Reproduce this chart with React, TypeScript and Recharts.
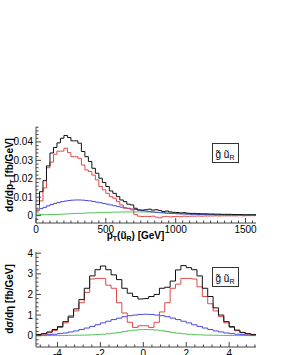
import React from 'react';
import { LineChart, Line, XAxis, YAxis } from 'recharts';

const FONT = '"Liberation Sans", Arial, Helvetica, sans-serif';

// pT(u~R) spectrum, 25 GeV bins (low edges)
const PT_BIN_LOW = [
  0, 25, 50, 75, 100, 125, 150, 175, 200, 225, 250, 275, 300, 325, 350, 375,
  400, 425, 450, 475, 500, 525, 550, 575, 600, 625, 650, 675, 700, 725, 750, 775,
  800, 825, 850, 875, 900, 925, 950, 975, 1000, 1025, 1050, 1075, 1100, 1125, 1150, 1175,
  1200, 1225, 1250, 1275, 1300, 1325, 1350, 1375, 1400, 1425, 1450, 1475, 1500, 1525, 1550,
];
const PT_LAST_EDGE = 1575;

const PT_TOTAL = [
  0.006, 0.013, 0.019, 0.027, 0.034, 0.037, 0.0395, 0.042, 0.0435, 0.0424, 0.0406, 0.0406, 0.0393, 0.0348, 0.032, 0.0294,
  0.0257, 0.023, 0.0203, 0.018, 0.0158, 0.0134, 0.0121, 0.0103, 0.0085, 0.0076, 0.0062, 0.0058, 0.004, 0.0031, 0.003, 0.0032,
  0.0035, 0.003, 0.0032, 0.0028, 0.0022, 0.0025, 0.002, 0.0018, 0.0017, 0.0015, 0.0016, 0.0013, 0.0012, 0.0012, 0.0011, 0.001,
  0.001, 0.0009, 0.0009, 0.0008, 0.0008, 0.0007, 0.0007, 0.0007, 0.0006, 0.0006, 0.0006, 0.0005, 0.0005, 0.0005, 0.0005,
];
const PT_RED = [
  0.003, 0.008, 0.015, 0.026, 0.029, 0.0333, 0.035, 0.035, 0.0366, 0.0342, 0.032, 0.032, 0.0311, 0.0275, 0.0248, 0.0239,
  0.022, 0.0194, 0.0158, 0.014, 0.0121, 0.0103, 0.0094, 0.0076, 0.0058, 0.004, 0.004, 0.0031, 0.0007, -0.0003, -0.0005, -0.0004,
  -0.0005, -0.0003, -0.0008, -0.0012, -0.0006, -0.0004, -0.0007, -0.0005, -0.0004, -0.0006, -0.0003, -0.0004, -0.0003, -0.0003, -0.0002, -0.0003,
  -0.0002, -0.0002, -0.0002, -0.0001, -0.0002, -0.0001, -0.0001, -0.0001, -0.0001, -0.0001, 0, -0.0001, 0, 0, 0,
];
const PT_BLUE = [
  0.003, 0.0038, 0.0045, 0.0053, 0.006, 0.0066, 0.0071, 0.0076, 0.0079, 0.0082, 0.0084, 0.0085, 0.0085, 0.0084, 0.0082, 0.008,
  0.0077, 0.0073, 0.007, 0.0066, 0.0062, 0.0058, 0.0054, 0.005, 0.0046, 0.0043, 0.0039, 0.0036, 0.0033, 0.003, 0.0027, 0.0025,
  0.0022, 0.002, 0.0018, 0.0016, 0.0015, 0.0013, 0.0012, 0.0011, 0.001, 0.0009, 0.0009, 0.0008, 0.0007, 0.0007, 0.0006, 0.0006,
  0.0005, 0.0005, 0.0005, 0.0004, 0.0004, 0.0004, 0.0003, 0.0003, 0.0003, 0.0003, 0.0003, 0.0002, 0.0002, 0.0002, 0.0002,
];
const PT_GREEN = [
  0.0008, 0.0006, 0.0005, 0.0005, 0.0006, 0.0006, 0.0007, 0.0008, 0.0009, 0.001, 0.0011, 0.0012, 0.0012, 0.0013, 0.0014, 0.0015,
  0.0015, 0.0016, 0.0017, 0.0017, 0.0018, 0.0018, 0.0019, 0.0019, 0.002, 0.002, 0.002, 0.002, 0.002, 0.002, 0.002, 0.002,
  0.002, 0.0019, 0.0018, 0.0017, 0.0016, 0.0015, 0.0014, 0.0013, 0.0012, 0.0011, 0.001, 0.001, 0.0009, 0.0008, 0.0008, 0.0007,
  0.0007, 0.0006, 0.0006, 0.0005, 0.0005, 0.0005, 0.0004, 0.0004, 0.0004, 0.0003, 0.0003, 0.0003, 0.0003, 0.0003, 0.0003,
];

const PT_TICKS = [0, 500, 1000, 1500];
const DPT_TICKS = [0, 0.01, 0.02, 0.03, 0.04];

// pseudorapidity, 0.25 bins (low edges)
const ETA_BIN_LOW = [
  -5, -4.75, -4.5, -4.25, -4, -3.75, -3.5, -3.25, -3, -2.75, -2.5, -2.25, -2, -1.75, -1.5, -1.25, -1, -0.75, -0.5, -0.25,
  0, 0.25, 0.5, 0.75, 1, 1.25, 1.5, 1.75, 2, 2.25, 2.5, 2.75, 3, 3.25, 3.5, 3.75, 4, 4.25, 4.5, 4.75, 5,
];
const ETA_LAST_EDGE = 5.25;

const ETA_TOTAL = [
  0.06, 0.1, 0.18, 0.3, 0.44, 0.68, 0.95, 1.3, 1.75, 2.3, 2.9, 3.2, 3.38, 3.2, 2.95, 2.72, 2.3, 2.06, 1.9, 1.78,
  1.8, 1.9, 2.0, 2.3, 2.35, 2.65, 3.19, 3.4, 3.3, 3.2, 2.9, 2.3, 1.9, 1.35, 1.0, 0.68, 0.44, 0.27, 0.16, 0.1, 0.06,
];
const ETA_RED = [
  0.05, 0.08, 0.14, 0.25, 0.4, 0.62, 0.88, 1.2, 1.6, 2.1, 2.75, 2.78, 2.78, 2.45, 2.3, 1.6, 1.1, 0.65, 0.4, 0.48,
  0.48, 0.4, 0.65, 1.15, 1.6, 2.3, 2.5, 2.78, 2.78, 2.75, 2.37, 1.9, 1.55, 1.2, 0.92, 0.62, 0.4, 0.24, 0.14, 0.08, 0.05,
];
const ETA_BLUE = [
  0.02, 0.03, 0.05, 0.07, 0.1, 0.13, 0.18, 0.23, 0.3, 0.37, 0.45, 0.53, 0.62, 0.7, 0.78, 0.85, 0.92, 0.97, 1.0, 1.03,
  1.04, 1.03, 1.0, 0.97, 0.92, 0.85, 0.78, 0.7, 0.62, 0.53, 0.45, 0.37, 0.3, 0.23, 0.18, 0.13, 0.1, 0.07, 0.05, 0.03, 0.02,
];
const ETA_GREEN = [
  0, 0, 0.005, 0.005, 0.01, 0.01, 0.015, 0.02, 0.025, 0.03, 0.04, 0.05, 0.07, 0.09, 0.12, 0.16, 0.2, 0.24, 0.27, 0.29,
  0.3, 0.29, 0.27, 0.24, 0.2, 0.16, 0.12, 0.09, 0.07, 0.05, 0.04, 0.03, 0.025, 0.02, 0.015, 0.01, 0.01, 0.005, 0.005, 0, 0,
];

const ETA_TICKS = [-4, -2, 0, 2, 4];
const DETA_TICKS = [0, 1, 2, 3, 4];

const COLORS = { total: '#111111', red: '#e04848', blue: '#4848e4', green: '#52c452' };
const FRAME = '#444';

// one row per bin edge, last edge repeats the last bin so stepAfter closes it
function histRows(lows: number[], lastEdge: number, series: Record<string, number[]>) {
  const edges = [...lows, lastEdge];
  return edges.map((x, i) => {
    const k = Math.min(i, lows.length - 1);
    const row: Record<string, number> = { x };
    Object.keys(series).forEach((key) => {
      row[key] = series[key][k];
    });
    return row;
  });
}

function steps(start: number, stop: number, step: number) {
  const out: number[] = [];
  for (let v = start; v <= stop + step / 1000; v += step) out.push(Math.round(v * 1e6) / 1e6);
  return out;
}

const ptRows = histRows(PT_BIN_LOW, PT_LAST_EDGE, { total: PT_TOTAL, red: PT_RED, blue: PT_BLUE, green: PT_GREEN });
const etaRows = histRows(ETA_BIN_LOW, ETA_LAST_EDGE, { total: ETA_TOTAL, red: ETA_RED, blue: ETA_BLUE, green: ETA_GREEN });

type Side = 'bottom' | 'top' | 'left' | 'right';

// ROOT-style inward ticks, labels only on major ticks of bottom/left axes
const frameTick = (side: Side, majors: number[], label: boolean) => (props: any) => {
  const { x, y, payload } = props;
  const v = payload.value as number;
  const major = majors.some((m) => Math.abs(m - v) < 1e-9);
  const len = major ? 5 : 2.5;
  let x2 = x;
  let y2 = y;
  if (side === 'bottom') y2 = y - len;
  if (side === 'top') y2 = y + len;
  if (side === 'left') x2 = x + len;
  if (side === 'right') x2 = x - len;
  return (
    <g>
      <line x1={x} y1={y} x2={x2} y2={y2} stroke={FRAME} strokeWidth={1} />
      {label && major && side === 'bottom' && (
        <text x={x} y={y + 9.5} textAnchor="middle" fontSize={10} fontFamily={FONT} fill="#000">
          {String(v)}
        </text>
      )}
      {label && major && side === 'left' && (
        <text x={x - 3} y={y + 3.5} textAnchor="end" fontSize={10} fontFamily={FONT} fill="#000">
          {String(v)}
        </text>
      )}
    </g>
  );
};

interface PanelProps {
  rows: Record<string, number>[];
  top: number;
  height: number;
  marginTop: number;
  xAxisHeight: number;
  xDomain: [number, number];
  yDomain: [number, number];
  xMajor: number[];
  xMinor: number[];
  yMajor: number[];
  yMinor: number[];
}

const Panel: React.FC<PanelProps> = ({ rows, top, height, marginTop, xAxisHeight, xDomain, yDomain, xMajor, xMinor, yMajor, yMinor }) => {
  const axisCommon = { tickSize: 0, tickMargin: 0, tickLine: false, axisLine: { stroke: FRAME }, interval: 0 as const, allowDataOverflow: true };
  return (
    <div style={{ position: 'absolute', left: 0, top }}>
      <LineChart width={287} height={height} data={rows} margin={{ top: marginTop, right: 31, bottom: 0, left: 0 }}>
        <XAxis xAxisId="b" dataKey="x" type="number" domain={xDomain} ticks={xMinor} height={xAxisHeight} tick={frameTick('bottom', xMajor, true)} {...axisCommon} />
        <XAxis xAxisId="t" orientation="top" dataKey="x" type="number" domain={xDomain} ticks={xMinor} height={0} tick={frameTick('top', xMajor, false)} {...axisCommon} />
        <YAxis yAxisId="l" type="number" domain={yDomain} ticks={yMinor} width={36} tick={frameTick('left', yMajor, true)} {...axisCommon} />
        <YAxis yAxisId="r" orientation="right" type="number" domain={yDomain} ticks={yMinor} width={0} tick={frameTick('right', yMajor, false)} {...axisCommon} />
        <Line xAxisId="b" yAxisId="l" type="stepAfter" dataKey="green" stroke={COLORS.green} strokeWidth={1} dot={false} isAnimationActive={false} />
        <Line xAxisId="b" yAxisId="l" type="stepAfter" dataKey="blue" stroke={COLORS.blue} strokeWidth={1} dot={false} isAnimationActive={false} />
        <Line xAxisId="b" yAxisId="l" type="stepAfter" dataKey="red" stroke={COLORS.red} strokeWidth={1} dot={false} isAnimationActive={false} />
        <Line xAxisId="b" yAxisId="l" type="stepAfter" dataKey="total" stroke={COLORS.total} strokeWidth={1} dot={false} isAnimationActive={false} />
      </LineChart>
    </div>
  );
};

const LegendBox: React.FC<{ y: number }> = ({ y }) => (
  <g>
    <rect x={212.5} y={y} width={26} height={19} fill="#fff" stroke="#333" strokeWidth={1} />
    <text x={215.5} y={y + 14.5} fontSize={10} fontFamily={FONT} fill="#000">
      {'g\u0303 \u0169'}
      <tspan fontSize={7} dy={2}>R</tspan>
    </text>
  </g>
);

export default function App() {
  return (
    <div style={{ position: 'absolute', left: 0, top: 0, width: 287, height: 355, background: '#fff', overflow: 'hidden' }}>
      <Panel
        rows={ptRows}
        top={0}
        height={240}
        marginTop={127}
        xAxisHeight={17}
        xDomain={[0, PT_LAST_EDGE]}
        yDomain={[-0.004, 0.0481]}
        xMajor={PT_TICKS}
        xMinor={steps(0, 1550, 50)}
        yMajor={DPT_TICKS}
        yMinor={steps(-0.002, 0.048, 0.002)}
      />
      <Panel
        rows={etaRows}
        top={240}
        height={115}
        marginTop={12}
        xAxisHeight={8}
        xDomain={[-5, ETA_LAST_EDGE]}
        yDomain={[-0.55, 4.06]}
        xMajor={ETA_TICKS}
        xMinor={steps(-4.8, 5.2, 0.4)}
        yMajor={DETA_TICKS}
        yMinor={steps(-0.4, 4, 0.2)}
      />
      <svg width={287} height={355} style={{ position: 'absolute', left: 0, top: 0, pointerEvents: 'none' }}>
        <text transform="translate(12.5,175) rotate(-90)" textAnchor="middle" fontSize={10} fontWeight="bold" fontFamily={FONT} fill="#000">
          {'d\u03c3/dp'}
          <tspan fontSize={7} dy={2}>T</tspan>
          <tspan dy={-2}> [fb/GeV]</tspan>
        </text>
        <text x={135.5} y={239} textAnchor="middle" fontSize={10} fontWeight="bold" fontFamily={FONT} fill="#000">
          p<tspan fontSize={7} dy={2}>T</tspan>
          <tspan dy={-2}>{'(\u0169'}</tspan>
          <tspan fontSize={7} dy={2}>R</tspan>
          <tspan dy={-2}>) [GeV]</tspan>
        </text>
        <text transform="translate(12.5,299) rotate(-90)" textAnchor="middle" fontSize={10} fontWeight="bold" fontFamily={FONT} fill="#000">
          {'d\u03c3/d\u03b7 [fb/GeV]'}
        </text>
        <LegendBox y={143.5} />
        <LegendBox y={267.5} />
      </svg>
    </div>
  );
}
